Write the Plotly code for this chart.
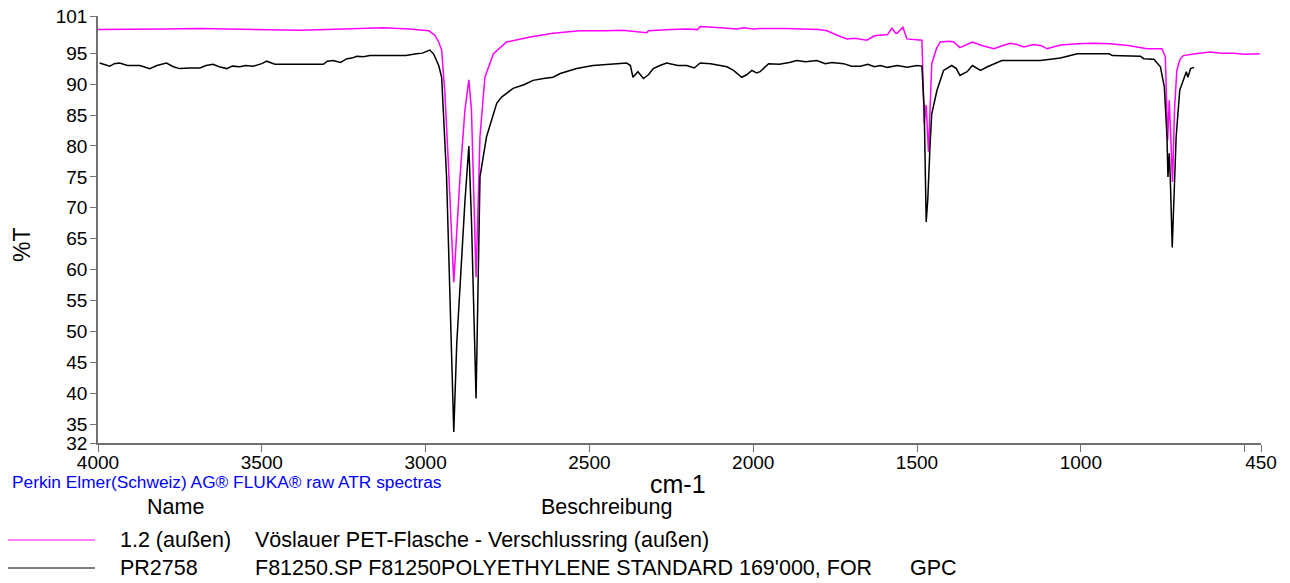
import plotly.graph_objects as go

# ---------------- data ----------------
wn_pet = [4000, 3950, 3900, 3800, 3689, 3600, 3500, 3384, 3300, 3200, 3130, 3050, 3018, 2990,
          2972, 2960, 2951, 2941, 2931, 2920, 2914, 2905, 2895, 2880, 2868, 2860, 2852, 2846,
          2840, 2834, 2819, 2793, 2753, 2681, 2611, 2529, 2450, 2400, 2325, 2320, 2250, 2200,
          2170, 2162, 2100, 2050, 2030, 2000, 1979, 1900, 1800, 1775, 1740, 1714, 1690, 1653,
          1630, 1612, 1590, 1577, 1565, 1561, 1543, 1531, 1500, 1485, 1478, 1472, 1465, 1455,
          1440, 1429, 1400, 1388, 1369, 1350, 1331, 1300, 1265, 1240, 1215, 1195, 1174, 1144,
          1120, 1103, 1080, 1062, 1011, 960, 910, 850, 798, 752, 742, 735, 730, 726, 720, 714,
          707, 697, 687, 650, 605, 570, 534, 500, 454]
t_pet = [98.8, 98.8, 98.9, 98.9, 99.0, 98.9, 98.9, 98.7, 98.8, 99.0, 99.1, 98.9, 98.8, 98.6,
         97.9, 96.8, 95.5, 88.5, 77.7, 64.3, 58.0, 66.0, 75.0, 85.8, 90.7, 85.8, 72.4, 58.8,
         70.0, 81.5, 91.1, 94.9, 96.8, 97.6, 98.2, 98.6, 98.6, 98.7, 98.3, 98.6, 98.8, 98.9,
         98.8, 99.3, 99.1, 98.9, 99.1, 98.9, 99.0, 99.0, 98.8, 98.6, 97.8, 97.3, 97.4, 97.1,
         97.8, 97.9, 98.0, 99.0, 98.2, 98.2, 99.2, 97.3, 97.1, 97.1, 83.6, 86.6, 79.0, 93.3,
         95.8, 96.8, 96.9, 96.8, 95.9, 96.4, 96.8, 96.2, 95.7, 96.2, 96.6, 96.4, 96.0, 96.4,
         96.2, 95.7, 96.0, 96.3, 96.5, 96.6, 96.5, 96.2, 95.7, 95.7, 94.4, 80.9, 87.4, 81.5,
         74.2, 85.8, 92.2, 94.0, 94.6, 94.9, 95.2, 95.0, 95.0, 94.8, 94.9]

wn_pe = [3995, 3980, 3964, 3950, 3934, 3910, 3873, 3860, 3842, 3820, 3791, 3770, 3751, 3720,
         3689, 3670, 3649, 3630, 3607, 3590, 3567, 3550, 3526, 3500, 3485, 3460, 3434, 3400,
         3350, 3312, 3300, 3282, 3260, 3240, 3225, 3210, 3190, 3170, 3100, 3060, 3028, 3010,
         2987, 2975, 2960, 2951, 2936, 2925, 2914, 2905, 2895, 2880, 2868, 2860, 2846, 2840,
         2834, 2814, 2783, 2768, 2733, 2700, 2672, 2640, 2611, 2589, 2560, 2539, 2489, 2430,
         2386, 2375, 2367, 2352, 2335, 2320, 2305, 2285, 2264, 2230, 2203, 2180, 2162, 2130,
         2101, 2080, 2060, 2035, 2020, 2004, 1990, 1979, 1953, 1920, 1890, 1867, 1840, 1806,
         1780, 1760, 1724, 1700, 1673, 1650, 1630, 1612, 1590, 1560, 1530, 1500, 1485, 1478,
         1472, 1467, 1460, 1455, 1439, 1419, 1394, 1380, 1369, 1347, 1331, 1306, 1285, 1265,
         1241, 1180, 1124, 1062, 1011, 960, 914, 904, 860, 818, 808, 777, 757, 745, 737, 734,
         730, 727, 721, 715, 709, 698, 684, 678, 673, 665, 654]
t_pe = [93.4, 93.2, 92.9, 93.3, 93.4, 93.0, 93.0, 92.8, 92.5, 93.0, 93.4, 92.8, 92.5, 92.6,
        92.6, 93.0, 93.2, 92.8, 92.5, 92.9, 92.8, 93.0, 92.9, 93.3, 93.7, 93.2, 93.2, 93.2,
        93.2, 93.2, 93.7, 93.8, 93.5, 94.1, 94.2, 94.5, 94.4, 94.6, 94.6, 94.6, 94.9, 95.0,
        95.5, 94.8, 93.0, 91.1, 75.0, 55.0, 33.8, 48.0, 58.0, 71.0, 80.0, 68.0, 39.2, 55.0,
        75.0, 81.5, 86.9, 87.9, 89.3, 89.9, 90.6, 90.9, 91.1, 91.7, 92.2, 92.5, 93.0, 93.2,
        93.4, 93.0, 91.1, 92.0, 90.9, 91.5, 92.5, 93.0, 93.4, 93.0, 93.0, 92.6, 93.4, 93.3,
        93.0, 92.8, 92.2, 91.1, 91.5, 92.2, 91.8, 92.0, 93.3, 93.2, 93.5, 93.8, 93.6, 93.8,
        93.3, 93.5, 93.3, 92.9, 92.9, 93.2, 92.8, 93.0, 92.7, 93.0, 92.7, 93.0, 92.9, 85.8,
        67.7, 71.5, 80.4, 85.2, 89.0, 92.2, 93.0, 92.5, 91.4, 92.0, 93.0, 92.2, 92.8, 93.3,
        93.8, 93.8, 93.8, 94.2, 94.9, 94.9, 94.9, 94.6, 94.5, 94.5, 94.1, 94.0, 92.8, 89.5,
        81.5, 75.0, 78.8, 75.0, 63.6, 72.3, 81.5, 89.0, 90.9, 92.0, 91.1, 92.5, 92.7]

x_tickvals = [4000, 3500, 3000, 2500, 2000, 1500, 1000, 500, 450]
x_ticktext = ["4000", "3500", "3000", "2500", "2000", "1500", "1000", "", "450"]
y_tickvals = [101, 95, 90, 85, 80, 75, 70, 65, 60, 55, 50, 45, 40, 35, 32]

names = ["1.2 (außen)", "PR2758"]
descriptions = ["Vöslauer PET-Flasche - Verschlussring (außen)",
                "F81250.SP F81250POLYETHYLENE STANDARD 169'000, FOR"]
extra = ["", "GPC"]
colors = ["#FF00FF", "#000000"]
footer = "Perkin Elmer(Schweiz) AG® FLUKA® raw ATR spectras"

# ---------------- figure ----------------
W, H = 1290, 583
L, R, T, B = 98, 29, 16, 140
PW, PH = W - L - R, H - T - B

def px(x):
    return (x - L) / PW

def py(y):
    return (H - B - y) / PH

FONT = "Liberation Sans, Arial, sans-serif"

fig = go.Figure()
fig.add_trace(go.Scatter(x=wn_pet, y=t_pet, mode="lines",
                         line=dict(color=colors[0], width=1.5), name=names[0]))
fig.add_trace(go.Scatter(x=wn_pe, y=t_pe, mode="lines",
                         line=dict(color=colors[1], width=1.5), name=names[1]))

fig.update_layout(
    width=W, height=H,
    margin=dict(l=L, r=R, t=T, b=B, autoexpand=False),
    paper_bgcolor="white", plot_bgcolor="white",
    showlegend=False,
    font=dict(family=FONT, color="#000000"),
    xaxis=dict(range=[4000, 450], tickvals=x_tickvals, ticktext=x_ticktext,
               automargin=False,
               showgrid=False, zeroline=False, showline=True, linecolor="#707070",
               linewidth=1.5, ticks="outside", ticklen=7, tickcolor="#707070",
               ticklabelstandoff=-6, ticklabeloverflow="allow",
               tickfont=dict(size=19, family=FONT, color="#000000")),
    yaxis=dict(range=[32, 101], tickvals=y_tickvals,
               automargin=False,
               showgrid=False, zeroline=False, showline=True, linecolor="#707070",
               linewidth=1.5, ticks="outside", ticklen=6, tickcolor="#707070",
               ticklabelstandoff=-1, ticklabeloverflow="allow",
               tickfont=dict(size=19, family=FONT, color="#000000")),
)

ann = []
ann.append(dict(x=px(22), y=py(245), text="%T", textangle=-90, showarrow=False,
                font=dict(size=23), xanchor="center", yanchor="middle"))
ann.append(dict(x=px(678), y=py(484), text="cm-1", showarrow=False,
                font=dict(size=25), xanchor="center", yanchor="middle"))
ann.append(dict(x=px(10), y=py(482), text=footer, showarrow=False,
                font=dict(size=17.3, color="#0000FF"), xanchor="left", yanchor="middle"))
ann.append(dict(x=px(175), y=py(507), text="Name", showarrow=False,
                font=dict(size=21.5), xanchor="center", yanchor="middle"))
ann.append(dict(x=px(606), y=py(507), text="Beschreibung", showarrow=False,
                font=dict(size=21.5), xanchor="center", yanchor="middle"))
rows_y = [540, 568]
shapes = []
for i in range(2):
    yy = rows_y[i]
    shapes.append(dict(type="line", xref="paper", yref="paper",
                       x0=px(8), x1=px(95), y0=py(yy), y1=py(yy),
                       line=dict(color=colors[i], width=1)))
    ann.append(dict(x=px(118), y=py(yy), text=names[i], showarrow=False,
                    font=dict(size=21.5), xanchor="left", yanchor="middle"))
    ann.append(dict(x=px(253), y=py(yy), text=descriptions[i], showarrow=False,
                    font=dict(size=21.5), xanchor="left", yanchor="middle"))
    if extra[i]:
        ann.append(dict(x=px(908), y=py(yy), text=extra[i], showarrow=False,
                        font=dict(size=21.5), xanchor="left", yanchor="middle"))

for a in ann:
    a["xref"] = "paper"
    a["yref"] = "paper"
fig.update_layout(annotations=ann, shapes=shapes)

# remove the browser's default page margin so the figure sits at the window's corner
fig.write_html("out.html", config={"displayModeBar": False},
               post_script="document.body.style.margin='0px';")
